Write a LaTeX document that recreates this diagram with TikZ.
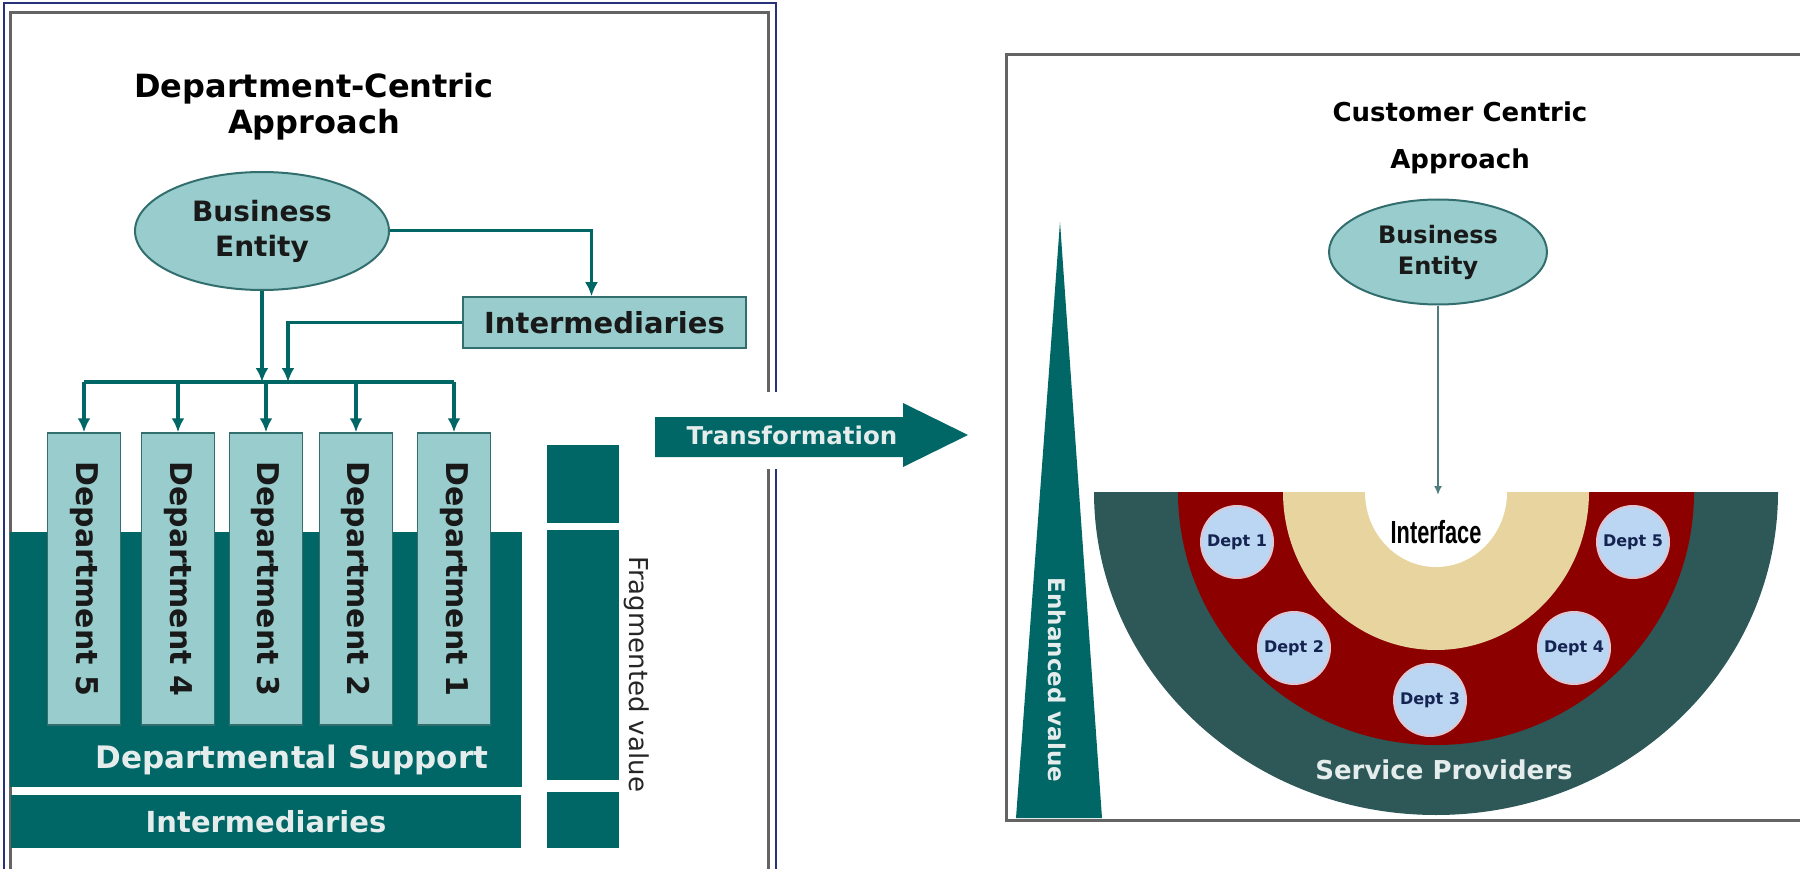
\documentclass[tikz,border=0pt]{standalone}
\usepackage{fontspec}
\setmainfont{DejaVu Sans}
\newfontfamily\narrowfont{Liberation Sans}
\usetikzlibrary{arrows.meta,shapes.geometric}

\definecolor{tealdark}{RGB}{0,102,102}
\definecolor{teallight}{RGB}{153,204,204}
\definecolor{tealedge}{RGB}{51,110,110}
\definecolor{slatering}{RGB}{46,88,88}
\definecolor{redring}{RGB}{140,0,0}
\definecolor{beigering}{RGB}{232,212,158}
\definecolor{deptblue}{RGB}{187,214,242}
\definecolor{paletext}{RGB}{228,236,236}
\definecolor{framegray}{RGB}{100,100,100}
\definecolor{framenavy}{RGB}{40,50,120}

\begin{document}
\begin{tikzpicture}[x=1pt, y=-1pt,
	link/.style={draw=tealdark, line width=3.5pt, arrows={-Latex[length=14pt, width=13pt]}},
	entity/.style={ellipse, draw=tealedge, line width=2pt, fill=teallight, align=center, inner sep=0pt, text=black!90},
	lightbox/.style={rectangle, draw=tealedge, line width=1.5pt, fill=teallight, inner sep=0pt, text=black!90},
	darkbox/.style={rectangle, fill=tealdark, inner sep=0pt, text=paletext},
	deptcircle/.style={circle, draw={rgb,255:red,222;green,198;blue,212}, line width=2pt, fill=deptblue, minimum size=72pt, inner sep=0pt, font=\fontsize{16}{19}\selectfont\bfseries, text={rgb,255:red,20;green,35;blue,80}}
]

	\useasboundingbox (0,0) rectangle (1800,869);

	\draw [framenavy, line width=1.5pt] (4,870) -- (4,3) -- (776,3) -- (776,870);
	\draw [framegray, line width=3pt] (10,870) -- (10,13) -- (768,13) -- (768,870);

	\node [align=center, font=\fontsize{32}{36}\selectfont\bfseries] (ltitle) at (314,107) {Department-Centric\\Approach};

	\node [entity, minimum width=254pt, minimum height=118pt, font=\fontsize{28}{35}\selectfont\bfseries] (lent) at (262,231) {Business\\Entity};
	\node [lightbox, minimum width=283pt, minimum height=51pt, font=\fontsize{29}{34}\selectfont\bfseries] (linter) at (604.5,322.5) {Intermediaries};

	\fill [tealdark] (10,532) rectangle (522,787);
	\node [text=paletext, font=\fontsize{31}{36}\selectfont\bfseries] (support) at (292,760) {Departmental Support};
	\node [darkbox, minimum width=510pt, minimum height=53pt, font=\fontsize{29}{34}\selectfont\bfseries] (lband) at (266,821.5) {Intermediaries};

	\foreach \n/\x in {5/84, 4/178, 3/266, 2/356, 1/454}
		\node [lightbox, minimum width=73pt, minimum height=292pt, font=\fontsize{30}{34}\selectfont\bfseries] (d\n) at (\x,579) {\rotatebox{-90}{Department \n}};

	\coordinate (bus) at (262,382);
	\draw [tealdark, line width=3.5pt] (d5.north |- bus) -- (d1.north |- bus);
	\foreach \n in {1,...,5}
		\draw [link] (d\n.north |- bus) -- (d\n.north);
	\draw [link, line width=4.5pt] (lent.south) -- (lent.south |- bus);
	\draw [link, line width=3pt] (lent.east) -| ([xshift=-13pt]linter.north);
	\draw [link] (linter.west) -| ([xshift=26pt]bus);

	\foreach \top/\bot in {445/523, 530/780, 792/848}
		\fill [tealdark] (547,\top) rectangle (619,\bot);
	\node [rotate=-90, font=\fontsize{26}{30}\selectfont, text=black!85] (fragval) at (637,674) {Fragmented value};

	\fill [white] (758,392) rectangle (780,469);
	\fill [tealdark] (655,417) -- (903,417) -- (903,403) -- (968,435) -- (903,467) -- (903,457) -- (655,457) -- cycle;
	\node [text=paletext, font=\fontsize{24.5}{28}\selectfont\bfseries] (transf) at (792,435) {Transformation};

	\draw [framegray, line width=3pt] (1800,55) -- (1006,55) -- (1006,820) -- (1800,820);

	\node [align=center, font=\fontsize{26}{47}\selectfont\bfseries] (rtitle) at (1460,138) {Customer Centric\\Approach};

	\fill [tealdark] (1060,222) -- (1102,818) -- (1016,818) -- cycle;
	\node [rotate=-90, text=paletext, font=\fontsize{23}{27}\selectfont\bfseries] (enhval) at (1057,680) {Enhanced value};

	\fill [slatering] (1436,492) ++(-342,0) arc [start angle=180, end angle=0, x radius=342, y radius=323] -- cycle;
	\fill [redring] (1436,492) ++(-258,0) arc [start angle=180, end angle=0, x radius=258, y radius=253] -- cycle;
	\fill [beigering] (1436,492) ++(-153,0) arc [start angle=180, end angle=0, x radius=153, y radius=158] -- cycle;
	\fill [white] (1436,492) ++(-71,0) arc [start angle=180, end angle=0, x radius=71, y radius=75] -- cycle;

	\node [font=\fontsize{32}{36}\selectfont\narrowfont\bfseries] (iface) at (1436,532) {\scalebox{0.68}[1]{Interface}};
	\node [text=paletext, font=\fontsize{26}{30}\selectfont\bfseries] (provider) at (1444,770) {Service Providers};

	\node [deptcircle] (dept1) at (1237,542) {Dept 1};
	\node [deptcircle] (dept2) at (1294,648) {Dept 2};
	\node [deptcircle] (dept3) at (1430,700) {Dept 3};
	\node [deptcircle] (dept4) at (1574,648) {Dept 4};
	\node [deptcircle] (dept5) at (1633,542) {Dept 5};

	\node [entity, minimum width=218pt, minimum height=105pt, font=\fontsize{24}{31}\selectfont\bfseries] (rent) at (1438,252) {Business\\Entity};
	\coordinate (ifacetop) at (1438,495);
	\draw [draw={rgb,255:red,80;green,125;blue,125}, line width=2pt, arrows={-Latex[length=9pt, width=8pt]}] (rent.south) -- (ifacetop);

\end{tikzpicture}
\end{document}
